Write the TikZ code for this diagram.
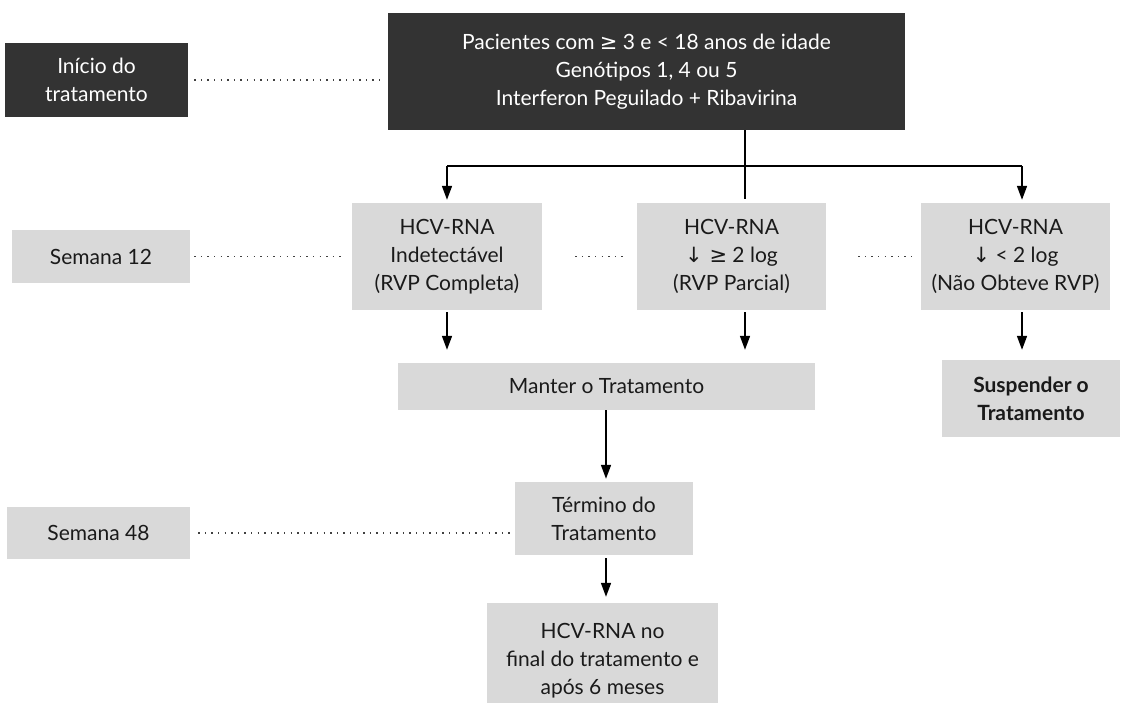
\documentclass[tikz,border=0pt]{standalone}
\usepackage{fontspec}
\setmainfont{Lato}
\newfontfamily\sym{DejaVu Sans}
\usetikzlibrary{arrows.meta}
\definecolor{darkfill}{HTML}{333333}
\definecolor{litefill}{HTML}{D9D9D9}
\definecolor{ink}{HTML}{1A1A1A}
\begin{document}
\begin{tikzpicture}[x=1pt,y=-1pt,
  font=\fontsize{21}{28}\selectfont,
  box/.style={inner sep=0pt, align=center, anchor=center},
  darkbox/.style={box, fill=darkfill, text=white},
  litebox/.style={box, fill=litefill, text=ink},
  ln/.style={line width=1.6pt, draw=black},
  arr/.style={ln, -{Triangle[length=14pt,width=10pt]}},
  dots/.style={line width=1.4pt, draw=black!75, dash pattern=on 1.4pt off 5.2pt}
]
\useasboundingbox (0,0) rectangle (1131,702);
\clip (0,0) rectangle (1131,702);
\fill[white] (0,0) rectangle (1131,702);

% nodes
\node[darkbox, minimum width=183pt, minimum height=74pt] (start) at (96.5,80) {Início do\\tratamento};
\node[darkbox, minimum width=517pt, minimum height=117pt] (top) at (646.5,71.5)
  {Pacientes com {\sym ≥} 3 e < 18 anos de idade\\Genótipos 1, 4 ou 5\\Interferon Peguilado + Ribavirina};
\node[litebox, minimum width=178pt, minimum height=53pt] (s12) at (101,256.5) {Semana 12};
\node[litebox, minimum width=190pt, minimum height=107pt] (b1) at (447,256.5) {HCV-RNA\\Indetectável\\(RVP Completa)};
\node[litebox, minimum width=189pt, minimum height=107pt] (b2) at (731.5,256.5) {HCV-RNA\\{\sym ↓ ≥} 2 log\\(RVP Parcial)};
\node[litebox, minimum width=189pt, minimum height=107pt] (b3) at (1015.5,256.5) {HCV-RNA\\{\sym ↓} < 2 log\\(Não Obteve RVP)};
\node[litebox, minimum width=417pt, minimum height=47pt] (manter) at (606.5,386.5) {Manter o Tratamento};
\node[litebox, minimum width=178pt, minimum height=77pt, font=\fontsize{21}{28}\selectfont\bfseries] (susp) at (1031,398.5) {Suspender o\\Tratamento};
\node[litebox, minimum width=178pt, minimum height=73pt] (term) at (604,518.5) {Término do\\Tratamento};
\node[litebox, minimum width=183pt, minimum height=52pt] (s48) at (98.5,533) {Semana 48};
\node[litebox, minimum width=231pt, minimum height=116pt] (final) at (602.5,661) {HCV-RNA no\\final do tratamento e\\após 6 meses};

% junction coordinates
\coordinate (jl) at (447,166);
\coordinate (jm) at (745,166);
\coordinate (jr) at (1022,166);
\coordinate (jc) at (606,0);

% connectors
\draw[ln] (jm |- top.south) -- (jm);
\draw[ln, shorten >=4pt] (jm) -- (jm |- b2.north);
\draw[ln] (jl) -- (jr);
\draw[arr, shorten >=3pt] (jl) -- (jl |- b1.north);
\draw[arr, shorten >=3pt] (jr) -- (jr |- b3.north);

\draw[arr, shorten <=2pt, shorten >=13pt] (jl |- b1.south) -- (jl |- manter.north);
\draw[arr, shorten <=2pt, shorten >=13pt] (jm |- b2.south) -- (jm |- manter.north);
\draw[arr, shorten <=2pt, shorten >=10pt] (jr |- b3.south) -- (jr |- susp.north);
\draw[arr, shorten >=3pt] (jc |- manter.south) -- (jc |- term.north);
\draw[arr, shorten <=3pt, shorten >=6pt] (jc |- term.south) -- (jc |- final.north);

% dotted guides
\draw[dots, shorten <=6pt, shorten >=7pt] (start.east) -- (start.east -| top.west);
\draw[dots, shorten <=4pt, shorten >=6pt] (s12.east) -- (s12.east -| b1.west);
\draw[dots, shorten <=33pt, shorten >=9pt] (b1.east) -- (b2.west);
\draw[dots, shorten <=32pt, shorten >=5pt] (b2.east) -- (b3.west);
\draw[dots, shorten <=8pt, shorten >=4pt] (s48.east) -- (s48.east -| term.west);
\end{tikzpicture}
\end{document}
